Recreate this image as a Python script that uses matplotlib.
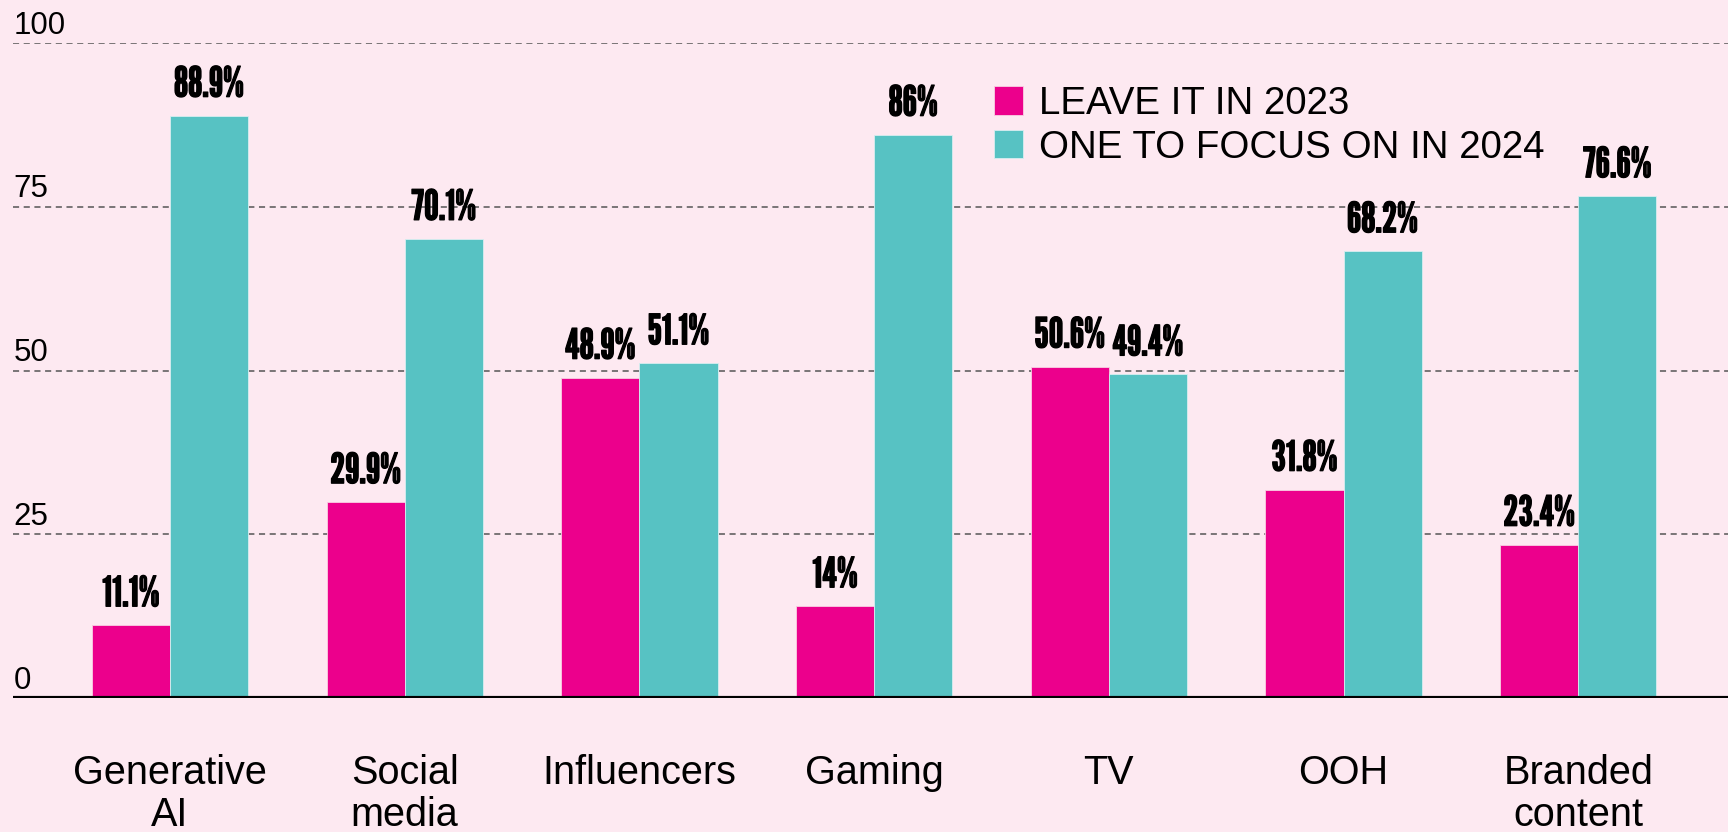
import matplotlib
matplotlib.use("Agg")
import matplotlib.pyplot as plt
import matplotlib.patheffects as pe
import numpy as np
from matplotlib.transforms import blended_transform_factory

categories = ["Generative\nAI", "Social\nmedia", "Influencers", "Gaming", "TV", "OOH", "Branded\ncontent"]
leave_2023 = [11.1, 29.9, 48.9, 14, 50.6, 31.8, 23.4]
focus_2024 = [88.9, 70.1, 51.1, 86, 49.4, 68.2, 76.6]
leave_labels = ["11.1%", "29.9%", "48.9%", "14%", "50.6%", "31.8%", "23.4%"]
focus_labels = ["88.9%", "70.1%", "51.1%", "86%", "49.4%", "68.2%", "76.6%"]
y_ticks = [0, 25, 50, 75, 100]
series_names = ["LEAVE IT IN 2023", "ONE TO FOCUS ON IN 2024"]

BG = "#FDE9F1"
MAGENTA = "#EC008C"
TEAL = "#57C2C3"
SANS = ["Liberation Sans", "DejaVu Sans"]
CONDENSED = ["League Gothic", "Fira Sans Extra Condensed", "DejaVu Sans"]
bolder = [pe.withStroke(linewidth=0.9, foreground="black")]

fig = plt.figure(figsize=(17.28, 8.32), dpi=100, facecolor=BG)
ax = fig.add_axes([13 / 1728, 134 / 832, 1 - 13 / 1728, (698 - 43) / 832])
ax.set_facecolor(BG)

x = np.arange(len(categories))
w = 0.333
ax.set_xlim(-0.669, 6.638)
ax.set_ylim(0, 100)

# y labels sit just above their dashed gridlines
ytrans = blended_transform_factory(ax.transAxes, ax.transData)
for y in y_ticks:
    if y > 0:
        ax.axhline(y, color="#555555", lw=1.1, ls=(0, (4, 3)), zorder=1)
    ax.text(0.0005, y + 1.45, str(y), transform=ytrans, fontsize=22.5, family=SANS, va="baseline", ha="left")

ax.bar(x - w / 2, leave_2023, w, color=MAGENTA, edgecolor="#F8D0E2", lw=0.6, zorder=2, label=series_names[0])
ax.bar(x + w / 2, focus_2024, w, color=TEAL, edgecolor="#D8EEF0", lw=0.6, zorder=2, label=series_names[1])

for xi, v, lab in zip(x - w / 2, leave_2023, leave_labels):
    ax.text(xi, v + 2.9, lab, ha="center", va="baseline", fontsize=30, family=CONDENSED, zorder=3,
            path_effects=bolder)
for xi, v, lab in zip(x + w / 2, focus_2024, focus_labels):
    ax.text(xi, v + 2.9, lab, ha="center", va="baseline", fontsize=30, family=CONDENSED, zorder=3,
            path_effects=bolder)

for xi, cat in zip(x, categories):
    ax.text(xi, -8.6, cat, ha="center", va="top", fontsize=28.5, family=SANS, linespacing=1.13, clip_on=False)

ax.axhline(0, color="black", lw=3, zorder=4)
for s in ax.spines.values():
    s.set_visible(False)
ax.set_xticks([])
ax.set_yticks([])

ax.legend(loc="upper left", bbox_to_anchor=(994 / 1728, 1 - 86 / 832), bbox_transform=fig.transFigure,
          frameon=False, prop={"family": SANS, "size": 27.7}, handlelength=0.75, handleheight=0.75,
          handletextpad=0.42, labelspacing=0.2, borderaxespad=0, borderpad=0)

fig.savefig("out.png", dpi=100, facecolor=BG)
